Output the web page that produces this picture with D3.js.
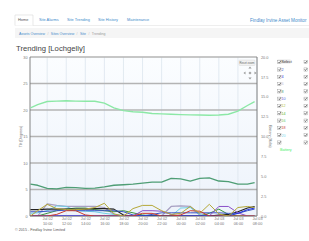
<!DOCTYPE html>
<html>
<head>
<meta charset="utf-8">
<script src="https://cdn.jsdelivr.net/npm/d3@7"></script>
<style>
body { margin: 0; background: #fff; font-family: "Liberation Sans", Arial, sans-serif; }
svg { display: block; }
.axis path, .axis line { stroke: none; }
.axis text { fill: #777; font-size: 3.8px; font-family: "Liberation Sans", Arial, sans-serif; }
</style>
</head>
<body>
<svg id="chart"></svg>
<script>
var width = 309, height = 241;

// hourly samples
var times = ["2015-07-02T08:15", "2015-07-02T09:00", "2015-07-02T10:00", "2015-07-02T11:00",
  "2015-07-02T12:00", "2015-07-02T13:00", "2015-07-02T14:00", "2015-07-02T15:00",
  "2015-07-02T16:00", "2015-07-02T17:00", "2015-07-02T18:00", "2015-07-02T19:00",
  "2015-07-02T20:00", "2015-07-02T21:00", "2015-07-02T22:00", "2015-07-02T23:00",
  "2015-07-03T00:00", "2015-07-03T01:00", "2015-07-03T02:00", "2015-07-03T03:00",
  "2015-07-03T04:00", "2015-07-03T05:00", "2015-07-03T06:00", "2015-07-03T07:00",
  "2015-07-03T07:45"];

var battery  = [13.6, 14.0, 14.4, 14.45, 14.5, 14.45, 14.43, 14.43, 14.2, 13.6, 13.25, 13.12, 13.05,
  12.9, 12.85, 12.8, 12.75, 12.72, 12.7, 12.68, 12.7, 12.8, 13.2, 13.9, 14.4];
var sensor8  = [6.0, 5.8, 5.2, 5.1, 5.4, 5.35, 5.2, 5.25, 5.5, 5.8, 5.9, 6.0, 6.2,
  6.4, 6.4, 7.1, 7.0, 6.6, 7.1, 7.2, 6.6, 6.5, 6.0, 6.0, 6.3];
var sensor12 = [0, 1.0, 2.2, 1.4, 1.2, 1.2, 1.3, 1.6, 2.4, 0.4, 0, 1.4, 2.0,
  2.0, 1.0, 0.3, 0.5, 1.8, 0.5, 2.2, 0.4, 0, 1.6, 1.8, 1.6];
var sensor6  = [0, 0, 2.3, 2.0, 1.8, 1.8, 1.8, 1.8, 1.6, 0.3, 0, 0, 0,
  0, 0, 1.8, 1.9, 1.8, 0.2, 0, 0, 0, 0, 0, 0];
var sensorX  = [1.2, 1.2, 1.3, 1.3, 1.3, 1.3, 1.3, 1.4, 1.4, 1.3, 0.2, 0, 0,
  0, 0, 0, 0, 0, 0, 0, 0.2, 0.3, 0.8, 1.5, 1.8];
var sensor2  = [0.8, 0.8, 0.9, 1.0, 1.1, 1.0, 1.0, 1.0, 1.0, 1.0, 0.8, 0.2, 0,
  0.3, 0.6, 0.6, 0.6, 0.6, 0.6, 0.6, 0.6, 0.5, 0.5, 1.0, 1.3];
var sensor18 = [0, 0, 0, 0.3, 1.0, 1.0, 0.2, 0, 0, 0, 0, 0, 0.5,
  0.5, 0, 0, 0.2, 1.0, 0.9, 0, 0, 0, 0, 0, 0];
var sensor10 = [0, 0, 0, 0, 0, 0, 0, 0, 0, 0, 0, 0, 1.0,
  1.0, 0.9, 0.3, 0, 0, 0, 0, 1.8, 1.8, 0.6, 0, 0];
var sensor20 = [0.5, 0.6, 1.0, 1.9, 1.8, 1.0, 0.9, 0.8, 0.5, 0.3, 0, 0, 0,
  0, 0, 0, 1.5, 1.6, 0.2, 0, 0, 0, 0, 0, 0];
var sensor14 = [0, 0, 0.5, 1.0, 1.3, 1.5, 1.5, 1.2, 1.0, 0.8, 1.0, 0.6, 0.2,
  0, 0, 0, 0, 0, 0, 0.5, 1.3, 0.3, 0, 0, 0];
var sensor4  = [0, 0, 0, 0, 0, 0, 0, 0, 0, 0, 0, 0, 0,
  0, 0, 0, 0, 0, 0, 0, 0, 0, 0.5, 1.2, 1.5];

var legendNames  = ["2", "4", "6", "8", "10", "12", "14", "16", "18", "20", "", "Battery"];
var legendColors = ["#3b55c4", "#2233dd", "#c0bcd8", "#4f9e75", "#5566dd", "#b5c24a",
  "#5ab52e", "#6dc86d", "#cc4040", "#80d8ee", "#222", "#44ee66"];

var tiltTicks = [0, 5, 10, 15, 20, 25, 30];
var voltTicks = [0, 2.5, 5, 7.5, 10, 12.5, 15, 17.5, 20];
var navTabs = ["Home", "Site Alarms", "Site Trending", "Site History", "Maintenance"];
var crumbs = ["Assets Overview", "Sites Overview", "Site", "Trending"];

var parse = d3.timeParse("%Y-%m-%dT%H:%M");
var dates = times.map(parse);

var tiltSeries = [
  { name: "8", values: sensor8, color: "#4f9e75", w: 1.3 },
  { name: "6", values: sensor6, color: "#a79fc2", w: 1.2 },
  { name: "20", values: sensor20, color: "#6fd0e6", w: 1 },
  { name: "14", values: sensor14, color: "#3d9440", w: 1 },
  { name: "", values: sensorX, color: "#222", w: 1.1 },
  { name: "2", values: sensor2, color: "#3b55c4", w: 1 },
  { name: "10", values: sensor10, color: "#8a4fc8", w: 1 },
  { name: "4", values: sensor4, color: "#2233dd", w: 1 },
  { name: "18", values: sensor18, color: "#cc3a2a", w: 1 },
  { name: "12", values: sensor12, color: "#b5a838", w: 1 }
];

var svg = d3.select("#chart").attr("width", width).attr("height", height);

// ---- nav tabs ----
var tabX = [18, 39, 67, 98, 127];
svg.append("line").attr("x1", 15).attr("x2", width).attr("y1", 25.5).attr("y2", 25.5)
  .attr("stroke", "#e2e2e2").attr("stroke-width", 0.6);
svg.append("path").attr("d", "M15,25.5V15H33V25.5").attr("fill", "#fff")
  .attr("stroke", "#d8d8d8").attr("stroke-width", 0.6);
svg.selectAll(".tab").data(navTabs).enter().append("text")
  .attr("x", function(d, i) { return tabX[i]; })
  .attr("y", 21.3)
  .attr("font-size", 3.9)
  .attr("fill", function(d, i) { return i === 0 ? "#555" : "#428bca"; })
  .text(function(d) { return d; });
svg.append("text").attr("x", 250).attr("y", 22).attr("font-size", 4.6)
  .attr("fill", "#428bca").text("Findlay Irvine Asset Monitor");

// breadcrumb
svg.append("rect").attr("x", 15).attr("y", 28).attr("width", width - 15).attr("height", 10)
  .attr("fill", "#f5f5f5");
var bc = svg.append("text").attr("x", 19).attr("y", 34.5).attr("font-size", 3.5);
crumbs.forEach(function(c, i) {
  if (i > 0) bc.append("tspan").attr("dx", 2.4).attr("fill", "#bbb").text("/");
  bc.append("tspan").attr("dx", i > 0 ? 2.4 : 0)
    .attr("fill", i === crumbs.length - 1 ? "#999" : "#428bca").text(c);
});

// title
svg.append("text").attr("x", 16).attr("y", 51).attr("font-size", 7.7)
  .attr("fill", "#444").text("Trending [Lochgelly]");

// ---- chart ----
var pLeft = 30, pRight = 257, pTop = 57, pBottom = 216;

var x = d3.scaleTime()
  .domain([parse("2015-07-02T08:12"), parse("2015-07-03T08:00")])
  .range([pLeft, pRight]);
var yTilt = d3.scaleLinear().domain([0, 30]).range([pBottom, pTop]);
var yVolt = d3.scaleLinear().domain([0, 20]).range([pBottom, pTop]);

var defs = svg.append("defs");
var grad = defs.append("linearGradient").attr("id", "bg").attr("x1", 0).attr("y1", 0).attr("x2", 0).attr("y2", 1);
grad.append("stop").attr("offset", "0%").attr("stop-color", "#fbfdff");
grad.append("stop").attr("offset", "100%").attr("stop-color", "#edf3fb");
defs.append("clipPath").attr("id", "clip").append("rect")
  .attr("x", pLeft).attr("y", pTop - 2).attr("width", pRight - pLeft).attr("height", pBottom - pTop + 2);

svg.append("rect").attr("x", pLeft).attr("y", pTop).attr("width", pRight - pLeft)
  .attr("height", pBottom - pTop).attr("fill", "url(#bg)");

var xTicks = d3.timeHour.every(2).range(parse("2015-07-02T10:00"), parse("2015-07-03T08:01"));

svg.append("g").selectAll("line").data(xTicks).enter().append("line")
  .attr("x1", function(d) { return x(d); }).attr("x2", function(d) { return x(d); })
  .attr("y1", pTop).attr("y2", pBottom)
  .attr("stroke", "#dce4ee").attr("stroke-width", 0.8);

svg.append("g").selectAll("line").data(tiltTicks).enter().append("line")
  .attr("x1", pLeft).attr("x2", pRight)
  .attr("y1", function(d) { return yTilt(d); }).attr("y2", function(d) { return yTilt(d); })
  .attr("stroke", "#b4b4b4").attr("stroke-width", 1.3);

// borders
svg.append("line").attr("x1", pLeft).attr("x2", pLeft).attr("y1", pTop).attr("y2", pBottom)
  .attr("stroke", "#777").attr("stroke-width", 0.9);
svg.append("line").attr("x1", pRight).attr("x2", pRight).attr("y1", pTop).attr("y2", pBottom)
  .attr("stroke", "#777").attr("stroke-width", 0.9);
svg.append("line").attr("x1", pLeft).attr("x2", pRight).attr("y1", pBottom).attr("y2", pBottom)
  .attr("stroke", "#888").attr("stroke-width", 0.9);

// axes
svg.append("g").attr("class", "axis").attr("transform", "translate(" + (pLeft - 1) + ",0)")
  .call(d3.axisLeft(yTilt).tickValues(tiltTicks).tickSize(0).tickPadding(1.5).tickFormat(d3.format("d")));
svg.append("g").attr("class", "axis").attr("transform", "translate(" + (pRight + 1) + ",0)")
  .call(d3.axisRight(yVolt).tickValues(voltTicks).tickSize(0).tickPadding(3).tickFormat(d3.format(".1f")));

var xAxis = svg.append("g").attr("class", "axis").attr("transform", "translate(0," + pBottom + ")")
  .call(d3.axisBottom(x).tickValues(xTicks).tickSize(0).tickFormat(""));
xAxis.selectAll(".tick text").each(function(d) {
  var t = d3.select(this).attr("y", 0).attr("dy", null).attr("font-size", 3.5);
  t.append("tspan").attr("x", 0).attr("dy", 4.2).text(d3.timeFormat("%b %d")(d));
  t.append("tspan").attr("x", 0).attr("dy", 4.4).text(d3.timeFormat("%H:%M")(d));
});

svg.append("text").attr("transform", "translate(22," + (pTop + pBottom) / 2 + ") rotate(-90)")
  .attr("text-anchor", "middle").attr("font-size", 3.6).attr("fill", "#666").text("Tilt (Degrees)");
svg.append("text").attr("transform", "translate(269," + (pTop + pBottom) / 2 + ") rotate(90)")
  .attr("text-anchor", "middle").attr("font-size", 3.6).attr("fill", "#666").text("Battery (Volts)");

// lines
var plot = svg.append("g").attr("clip-path", "url(#clip)");
var tiltLine = function(vals) {
  return d3.line().x(function(d, i) { return x(dates[i]); }).y(function(d) { return yTilt(d); })(vals);
};
plot.selectAll(".tilt").data(tiltSeries).enter().append("path")
  .attr("d", function(d) { return tiltLine(d.values); })
  .attr("fill", "none").attr("stroke", function(d) { return d.color; })
  .attr("stroke-width", function(d) { return d.w; }).attr("stroke-linejoin", "round");

plot.append("path").datum(battery)
  .attr("d", d3.line().x(function(d, i) { return x(dates[i]); }).y(function(d) { return yVolt(d); }))
  .attr("fill", "none").attr("stroke", "#8ce8a6").attr("stroke-width", 1.4);

// reset zoom + pan control
svg.append("rect").attr("x", 239).attr("y", 60).attr("width", 16).attr("height", 5.5)
  .attr("rx", 0.8).attr("fill", "#f2f2f2").attr("stroke", "#cfcfcf").attr("stroke-width", 0.4);
svg.append("text").attr("x", 247).attr("y", 63.9).attr("text-anchor", "middle")
  .attr("font-size", 2.8).attr("fill", "#666").text("Reset zoom");
var cx = 250, cy = 73;
[[0, -1], [0, 1], [-1, 0], [1, 0]].forEach(function(p) {
  var tx = cx + p[0] * 4.5, ty = cy + p[1] * 4.5;
  var pts = p[0] === 0
    ? [[tx - 1.6, ty], [tx + 1.6, ty], [tx, ty + p[1] * 2]]
    : [[tx, ty - 1.6], [tx, ty + 1.6], [tx + p[0] * 2, ty]];
  svg.append("path").attr("d", "M" + pts.join("L") + "Z").attr("fill", "#999");
});
svg.append("circle").attr("cx", cx).attr("cy", cy).attr("r", 1.3).attr("fill", "#aaa");

// legend
function checkbox(g, bx, by) {
  g.append("rect").attr("x", bx).attr("y", by - 2.9).attr("width", 3.2).attr("height", 3.2)
    .attr("fill", "#fff").attr("stroke", "#888").attr("stroke-width", 0.35);
  g.append("path").attr("d", "M" + (bx + 0.6) + "," + (by - 1.3) + "l0.9,1l1.5,-2.2")
    .attr("fill", "none").attr("stroke", "#222").attr("stroke-width", 0.6);
}
var lg = svg.append("g");
lg.append("rect").attr("x", 277.5).attr("y", 59.5).attr("width", 13).attr("height", 4).attr("fill", "#e6e6e6");
checkbox(lg, 277.8, 63.4);
lg.append("text").attr("x", 281.5).attr("y", 63.3).attr("font-size", 3.7).attr("fill", "#333").text("Select");
checkbox(lg, 304, 63.4);
legendNames.forEach(function(n, i) {
  var yy = 70.8 + i * 7.3;
  if (n !== "Battery") {
    checkbox(lg, 277.8, yy);
    checkbox(lg, 304, yy);
  }
  lg.append("text").attr("x", n === "Battery" ? 280 : 281.5).attr("y", yy)
    .attr("font-size", 3.7).attr("fill", legendColors[i]).text(n);
});

// footer
svg.append("text").attr("x", 15).attr("y", 231).attr("font-size", 3.7).attr("fill", "#555")
  .text("© 2015 - Findlay Irvine Limited");
</script>
</body>
</html>
